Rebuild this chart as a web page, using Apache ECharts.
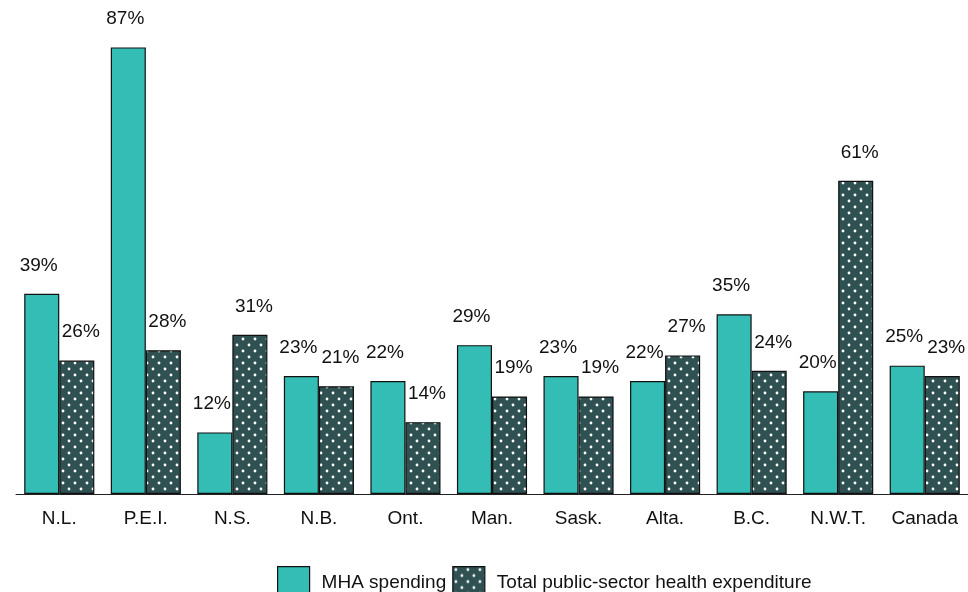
<!DOCTYPE html>
<html>
<head>
<meta charset="utf-8">
<script src="https://cdn.jsdelivr.net/npm/echarts@6/dist/echarts.min.js"></script>
<style>
  html, body { margin: 0; padding: 0; background: #fff; }
  #chart { width: 968px; height: 592px; }
</style>
</head>
<body>
<div id="chart"></div>
<script>
// data
const categories = ["N.L.", "P.E.I.", "N.S.", "N.B.", "Ont.", "Man.", "Sask.", "Alta.", "B.C.", "N.W.T.", "Canada"];
const mhaSpending = [39, 87, 12, 23, 22, 29, 23, 22, 35, 20, 25];
const totalHealth = [26, 28, 31, 21, 14, 19, 19, 27, 24, 61, 23];

const TEAL = "#33bdb5";
const DARK = "#2f5152";
const FONT = "'Liberation Sans', Arial, sans-serif";

// dotted fill for the second series
function dotPattern() {
  const c = document.createElement("canvas");
  c.width = 12;
  c.height = 12;
  const ctx = c.getContext("2d");
  ctx.fillStyle = DARK;
  ctx.fillRect(0, 0, 12, 12);
  ctx.fillStyle = "#ffffff";
  [[3, 3], [9, 9]].forEach(function (p) {
    ctx.beginPath();
    ctx.arc(p[0], p[1], 1.4, 0, Math.PI * 2);
    ctx.fill();
  });
  return c;
}
const dots = { image: dotPattern(), repeat: "repeat" };

const chart = echarts.init(document.getElementById("chart"), null, { renderer: "canvas" });

function labelStyle(dx) {
  return {
    show: true,
    position: "top",
    distance: 19,
    offset: [dx, 0],
    formatter: "{c}%",
    fontFamily: FONT,
    fontSize: 19,
    color: "#111"
  };
}

chart.setOption({
  animation: false,
  backgroundColor: "#fff",
  grid: { left: 16, right: 0, top: 32, bottom: 98 },
  legend: {
    left: 272,
    top: 561,
    icon: "rect",
    itemWidth: 32,
    itemHeight: 32,
    itemGap: 6,
    textStyle: { fontFamily: FONT, fontSize: 19, color: "#111", padding: [0, 0, 0, 7] },
    data: [
      { name: "MHA spending", itemStyle: { color: TEAL, borderColor: "#111", borderWidth: 1.2 } },
      { name: "Total public-sector health expenditure", itemStyle: { color: dots, borderColor: "#111", borderWidth: 1.2 } }
    ]
  },
  xAxis: {
    type: "category",
    data: categories,
    axisLine: { lineStyle: { color: "#222", width: 1 } },
    axisTick: { length: 7, lineStyle: { color: "#333" } },
    axisLabel: { interval: 0, fontFamily: FONT, fontSize: 19, color: "#111", margin: 15 }
  },
  yAxis: { type: "value", min: 0, max: 90, show: false },
  series: [
    {
      name: "MHA spending",
      type: "bar",
      data: mhaSpending,
      barGap: "0%",
      barCategoryGap: "19%",
      itemStyle: { color: TEAL, borderColor: "#111", borderWidth: 1.2 },
      label: labelStyle(-3)
    },
    {
      name: "Total public-sector health expenditure",
      type: "bar",
      data: totalHealth,
      barGap: "0%",
      barCategoryGap: "19%",
      itemStyle: { color: dots, borderColor: "#111", borderWidth: 1.2 },
      label: labelStyle(4)
    }
  ]
});
</script>
</body>
</html>
